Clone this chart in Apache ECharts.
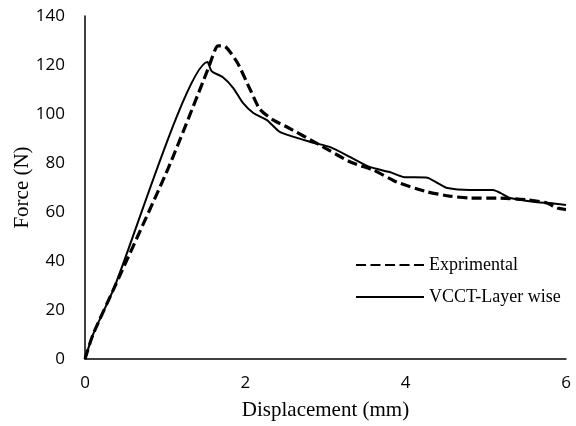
<!DOCTYPE html>
<html>
<head>
<meta charset="utf-8">
<script src="https://cdn.jsdelivr.net/npm/echarts@6/dist/echarts.min.js"></script>
<style>html,body{margin:0;padding:0;background:#fff;}#c{width:576px;height:426px;}</style>
</head>
<body>
<div id="c"></div>
<script>
const xTicks = [0, 2, 4, 6];
const yTicks = [0, 20, 40, 60, 80, 100, 120, 140];
const seriesNames = ['Exprimental', 'VCCT-Layer wise'];

const expX = [0, 0.1, 0.35, 1.04, 1.53, 1.62, 1.66, 1.75, 1.9, 2.06, 2.18, 2.35, 2.52, 2.93, 3.31, 3.6, 3.89, 4.27, 4.55, 4.8, 5.14, 5.51, 5.76, 5.89, 6.0];
const expY = [0, 10, 28, 78, 118, 126, 127.8, 127.5, 121, 110, 102, 97.5, 94.7, 87.3, 80.4, 77.1, 72.2, 68.2, 66.5, 65.7, 65.7, 65, 63.7, 61.6, 61];

const simX = [0, 0.1, 0.35, 1.53, 1.57, 1.6, 1.72, 1.85, 1.97, 2.1, 2.27, 2.43, 2.81, 3.06, 3.31, 3.55, 3.8, 3.97, 4.27, 4.4, 4.52, 4.8, 5.09, 5.18, 5.3, 5.64, 5.8, 6.0];
const simY = [0, 10, 28, 121.2, 118, 117, 115, 110.6, 104.5, 100.4, 97.5, 92.7, 88.6, 86.5, 82.4, 78.4, 76.3, 74.3, 74, 71.8, 69.8, 69, 69, 67.8, 65.7, 64, 63.7, 62.9];

const pairs = (xs, ys) => xs.map((x, i) => [x, ys[i]]);

const chart = echarts.init(document.getElementById('c'));
chart.setOption({
  animation: false,
  backgroundColor: '#fff',
  grid: { left: 85, right: 10, top: 16, bottom: 67, containLabel: false, outerBoundsMode: 'none' },
  xAxis: {
    type: 'value', min: 0, max: 6, interval: 2,
    name: 'Displacement (mm)', nameLocation: 'middle', nameGap: 41, nameMoveOverlap: false,
    nameTextStyle: { fontFamily: 'Liberation Serif', fontSize: 21, color: '#000' },
    axisLine: { show: true, lineStyle: { color: '#000', width: 1.5 } },
    axisTick: { show: false },
    splitLine: { show: false },
    axisLabel: { fontFamily: 'Open Sans', fontSize: 17, color: '#000', margin: 16 }
  },
  yAxis: {
    type: 'value', min: 0, max: 140, interval: 20,
    name: 'Force (N)', nameLocation: 'middle', nameGap: 52, nameRotate: 90, nameMoveOverlap: false,
    nameTextStyle: { fontFamily: 'Liberation Serif', fontSize: 21, color: '#000' },
    axisLine: { show: true, lineStyle: { color: '#000', width: 1.5 } },
    axisTick: { show: false },
    splitLine: { show: false },
    axisLabel: { fontFamily: 'Open Sans', fontSize: 17, color: '#000', margin: 20 }
  },
  legend: {
    orient: 'vertical', left: 350, top: 250, itemGap: 12,
    itemWidth: 68, itemHeight: 20,
    itemStyle: { opacity: 0 },
    textStyle: { fontFamily: 'Liberation Serif', fontSize: 18, color: '#000', lineHeight: 20 },
    data: seriesNames
  },
  series: [
    {
      name: seriesNames[0], type: 'line', data: pairs(expX, expY),
      showSymbol: false, symbol: 'none', smooth: 0.2,
      lineStyle: { color: '#000', width: 3.2, type: [10, 4.5], cap: 'butt' }
    },
    {
      name: seriesNames[1], type: 'line', data: pairs(simX, simY),
      showSymbol: false, symbol: 'none', smooth: 0.2,
      lineStyle: { color: '#000', width: 2, type: 'solid' }
    }
  ]
});
</script>
</body>
</html>
